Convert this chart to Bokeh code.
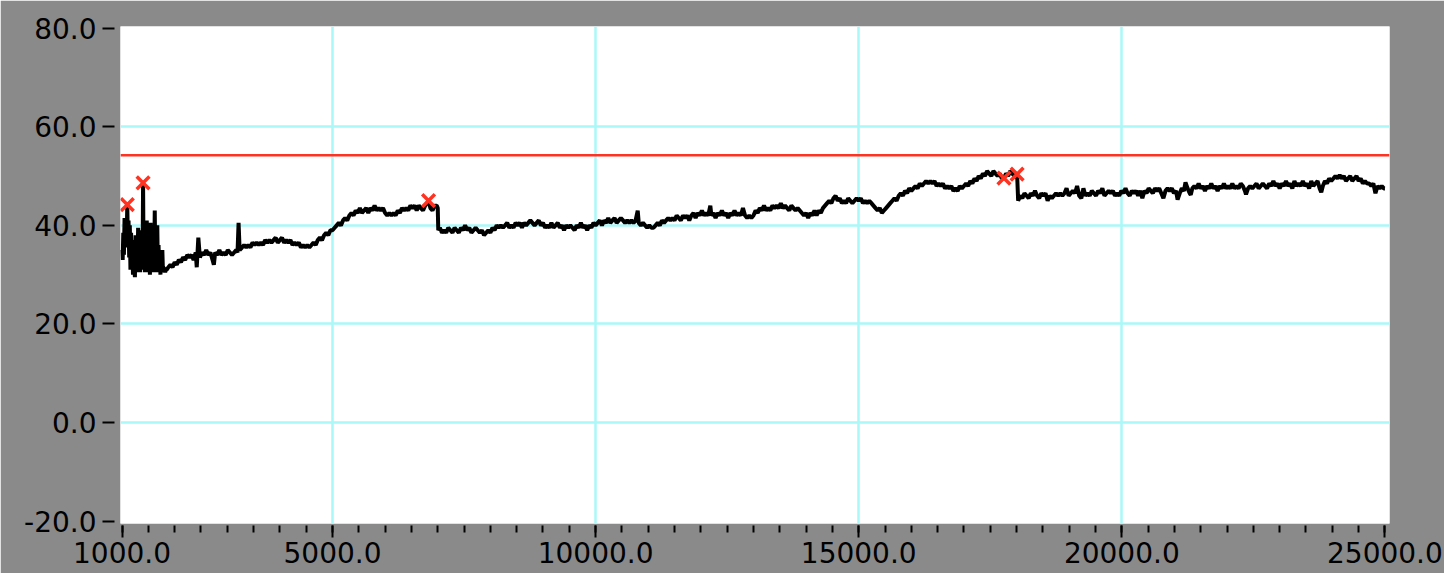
from bokeh.plotting import figure
from bokeh.models import Range1d, FixedTicker, PrintfTickFormatter, Span
from bokeh.embed import file_html
from bokeh.resources import INLINE

# ---- data ----
x_major_ticks = [1000, 5000, 10000, 15000, 20000, 25000]
x_minor_ticks = list(range(1000, 25001, 500))
x_grid_ticks = [5000, 10000, 15000, 20000]
y_major_ticks = [-20, 0, 20, 40, 60, 80]
y_grid_ticks = [0, 20, 40, 60]

limit_value = 54.2

series_x = [
    1000, 1012, 1024, 1036, 1048, 1060, 1072, 1085, 1100, 1112, 1124, 1136, 1148, 1160, 1172, 1184, 1196, 1208,
    1220, 1232, 1245, 1258, 1270, 1282, 1294, 1306, 1318, 1330, 1342, 1354, 1366, 1378, 1390, 1400, 1410, 1422,
    1434, 1446, 1458, 1470, 1482, 1494, 1506, 1518, 1530, 1542, 1554, 1566, 1578, 1590, 1602, 1614, 1622, 1634,
    1646, 1658, 1670, 1682, 1694, 1706, 1718, 1730, 1742, 1754, 1766, 1778, 1790, 1805, 1820, 1835, 1850,
    1880, 1920, 1960, 2000, 2040, 2080, 2120, 2160, 2200, 2240, 2280, 2320, 2360, 2400, 2420, 2450, 2480, 2520,
    2560, 2600, 2640, 2680, 2720, 2745, 2770, 2810, 2850, 2890, 2930, 2970, 3010, 3050, 3090, 3130, 3170, 3195, 3215, 3235,
    3280, 3320, 3360, 3400, 3440, 3480, 3520, 3560, 3600, 3640, 3680, 3720, 3760, 3800, 3840, 3880, 3920, 3960, 4000, 4040,
    4080, 4120, 4160, 4200, 4240, 4280, 4320, 4360, 4400, 4440, 4480, 4520, 4560, 4600, 4640, 4680, 4720, 4760, 4800, 4840,
    4880, 4920, 4960, 5000, 5040, 5080, 5120, 5160, 5200, 5240, 5280, 5320, 5360, 5400, 5440, 5480, 5520, 5560, 5600, 5640,
    5680, 5720, 5760, 5800, 5840, 5880, 5920, 5960, 6000, 6040, 6080, 6120, 6160, 6200, 6240, 6280, 6320, 6360, 6400, 6440,
    6480, 6520, 6560, 6600, 6640, 6680, 6720, 6760, 6800, 6825, 6860, 6900, 6940, 6980, 7000, 7010, 7040, 7080, 7120, 7160,
    7200, 7240, 7280, 7320, 7360, 7400, 7440, 7480, 7520, 7560, 7600, 7640, 7680, 7720, 7760, 7800, 7840, 7880, 7920, 7960,
    8000, 8040, 8080, 8120, 8160, 8200, 8240, 8280, 8320, 8360, 8400, 8440, 8480, 8520, 8560, 8600, 8640, 8680, 8720, 8760,
    8800, 8840, 8880, 8920, 8960, 9000, 9040, 9080, 9120, 9160, 9200, 9240, 9280, 9320, 9360, 9400, 9440, 9480, 9520, 9560,
    9600, 9640, 9680, 9720, 9760, 9800, 9840, 9880, 9920, 9960, 10000, 10040, 10080, 10120, 10160, 10200, 10240, 10280, 10320, 10360,
    10400, 10440, 10480, 10520, 10560, 10600, 10640, 10680, 10720, 10760, 10800, 10820, 10860, 10900, 10940, 10980, 11020, 11060, 11100, 11140,
    11180, 11220, 11260, 11300, 11340, 11380, 11420, 11460, 11500, 11540, 11580, 11620, 11660, 11700, 11740, 11780, 11820, 11860, 11900, 11940,
    11980, 12020, 12060, 12100, 12140, 12180, 12200, 12240, 12280, 12320, 12360, 12400, 12440, 12480, 12520, 12560, 12600, 12640, 12680, 12720,
    12760, 12800, 12840, 12880, 12920, 12960, 13000, 13040, 13080, 13120, 13160, 13200, 13240, 13280, 13320, 13360, 13400, 13440, 13480, 13520,
    13560, 13600, 13640, 13680, 13720, 13760, 13800, 13840, 13880, 13920, 13960, 14000, 14040, 14080, 14120, 14160, 14200, 14240, 14280, 14320,
    14360, 14400, 14440, 14480, 14520, 14560, 14600, 14640, 14680, 14720, 14760, 14800, 14840, 14880, 14920, 14960, 15000, 15040, 15080, 15120,
    15160, 15200, 15240, 15280, 15320, 15360, 15400, 15440, 15480, 15520, 15560, 15600, 15640, 15680, 15720, 15760, 15800, 15840, 15880, 15920,
    15960, 16000, 16040, 16080, 16120, 16160, 16200, 16240, 16280, 16320, 16360, 16400, 16440, 16480, 16520, 16560, 16600, 16640, 16680, 16720,
    16760, 16800, 16840, 16880, 16920, 16960, 17000, 17040, 17080, 17120, 17160, 17200, 17240, 17280, 17320, 17360, 17400, 17440, 17480, 17520,
    17560, 17600, 17640, 17680, 17720, 17760, 17800, 17840, 17880, 17920, 17960, 17990, 18010, 18030, 18070, 18110, 18150, 18190, 18230, 18270,
    18310, 18350, 18390, 18430, 18470, 18510, 18550, 18590, 18630, 18670, 18710, 18750, 18790, 18830, 18870, 18910, 18950, 18990, 19030, 19070,
    19110, 19150, 19190, 19230, 19270, 19310, 19350, 19390, 19430, 19470, 19510, 19550, 19590, 19630, 19670, 19710, 19750, 19790, 19830, 19870,
    19910, 19950, 19990, 20030, 20070, 20110, 20150, 20190, 20230, 20270, 20310, 20350, 20390, 20430, 20470, 20510, 20550, 20590, 20630, 20670,
    20710, 20750, 20790, 20830, 20870, 20910, 20950, 20990, 21030, 21060, 21100, 21140, 21180, 21210, 21250, 21290, 21310, 21340, 21380, 21420,
    21460, 21500, 21540, 21580, 21620, 21660, 21700, 21740, 21780, 21820, 21860, 21900, 21940, 21980, 22020, 22060, 22100, 22140, 22180, 22220,
    22260, 22300, 22340, 22360, 22400, 22440, 22480, 22520, 22560, 22600, 22640, 22680, 22720, 22760, 22800, 22840, 22880, 22920, 22960, 23000,
    23040, 23080, 23120, 23160, 23200, 23240, 23280, 23320, 23360, 23400, 23440, 23480, 23520, 23560, 23600, 23640, 23680, 23720, 23760, 23790,
    23820, 23860, 23900, 23940, 23980, 24020, 24060, 24100, 24140, 24180, 24220, 24260, 24300, 24340, 24380, 24420, 24460, 24500, 24540, 24580,
    24620, 24660, 24700, 24740, 24780, 24820, 24860, 24900, 24940, 24980, 25000,
]

series_y = [
    35.0, 33.0, 38.5, 34.0, 41.5, 36.0, 40.0, 35.5, 44.2, 36.0, 41.0, 33.5, 40.0, 31.0, 38.5, 33.0, 37.0, 30.0,
    36.5, 31.5, 29.5, 38.0, 30.5, 35.0, 31.0, 39.5, 32.0, 36.5, 30.5, 37.0, 33.0, 39.0, 31.0, 48.6, 32.0, 39.0,
    30.5, 36.5, 31.5, 41.0, 30.5, 37.5, 33.0, 35.5, 30.0, 40.5, 31.5, 38.0, 30.5, 36.0, 31.0, 35.5, 43.0, 30.5,
    37.5, 31.0, 40.0, 30.5, 36.0, 31.0, 34.5, 30.0, 33.5, 30.5, 35.0, 30.5, 31.5, 31.0, 30.5, 31.0, 31.0,
    31.5, 32.0, 31.5, 32.5, 32.0, 33.0, 32.5, 33.5, 33.0, 34.0, 33.5, 34.0, 33.0, 34.5, 31.5, 37.5, 33.5, 34.5,
    34.0, 35.0, 34.0, 34.5, 33.0, 32.0, 34.5, 34.0, 35.0, 34.0, 34.5, 34.0, 35.0, 34.5, 34.0, 34.5, 35.0, 34.5, 40.5, 35.0,
    35.5, 36.0, 35.5, 36.0, 35.5, 36.5, 36.0, 36.5, 36.0, 36.5, 36.0, 37.0, 36.5, 37.0, 36.5, 37.0, 37.5, 36.5, 37.0, 37.5,
    36.5, 37.0, 36.5, 37.0, 36.0, 36.5, 36.0, 36.5, 35.5, 36.0, 35.5, 36.0, 35.5, 36.0, 36.5, 36.0, 37.0, 37.5, 37.0, 38.0,
    38.5, 38.0, 39.0, 39.0, 39.5, 40.0, 40.5, 40.0, 41.0, 41.5, 41.0, 42.0, 42.5, 42.0, 43.0, 42.5, 43.5, 42.5, 43.0, 43.5,
    42.5, 43.5, 43.0, 44.0, 43.0, 43.5, 43.0, 43.5, 42.5, 42.0, 42.5, 42.0, 42.5, 42.0, 43.0, 42.5, 43.5, 43.0, 43.5, 43.0,
    44.0, 43.5, 44.0, 43.0, 44.0, 43.5, 43.0, 44.0, 44.5, 45.0, 43.5, 43.0, 44.0, 44.0, 43.5, 39.0, 39.5, 38.5, 39.0, 38.5,
    39.5, 39.0, 38.5, 39.5, 39.0, 38.5, 39.5, 39.0, 40.0, 39.0, 39.5, 38.5, 39.0, 39.5, 39.0, 38.5, 39.0, 38.0, 38.5, 39.0,
    38.5, 39.5, 39.0, 40.0, 39.5, 40.0, 39.5, 40.0, 40.5, 39.5, 40.0, 39.5, 40.5, 40.0, 40.5, 39.5, 40.5, 40.0, 40.5, 41.0,
    40.5, 40.0, 40.5, 41.0, 40.0, 40.5, 39.5, 40.0, 39.5, 40.5, 39.5, 40.0, 40.5, 39.5, 40.0, 39.0, 40.0, 39.5, 40.0, 39.5,
    39.0, 40.0, 39.5, 40.5, 39.5, 40.0, 39.0, 40.0, 39.5, 40.5, 40.0, 40.5, 41.0, 40.0, 41.0, 40.5, 41.5, 40.5, 41.0, 41.5,
    40.5, 41.0, 41.5, 41.0, 40.5, 41.0, 40.5, 41.0, 40.5, 41.0, 43.0, 40.5, 40.0, 40.5, 40.0, 39.5, 40.0, 39.5, 39.5, 40.0,
    40.5, 40.0, 41.0, 40.5, 41.0, 41.5, 41.0, 41.5, 41.0, 42.0, 41.5, 41.0, 42.0, 41.5, 42.0, 41.0, 42.0, 42.5, 41.5, 42.5,
    42.0, 43.0, 42.0, 42.5, 42.0, 44.0, 42.0, 42.5, 41.5, 42.5, 42.0, 43.0, 42.0, 42.5, 41.5, 42.5, 42.0, 43.0, 42.0, 42.5,
    42.0, 43.5, 42.0, 41.5, 42.0, 41.5, 42.0, 43.0, 42.5, 43.5, 43.0, 44.0, 43.0, 43.5, 43.0, 44.0, 43.5, 44.0, 43.5, 44.5,
    43.5, 44.0, 43.5, 43.0, 44.0, 43.5, 43.0, 43.5, 43.0, 42.5, 42.0, 42.5, 41.5, 42.5, 42.0, 43.0, 42.0, 43.0, 42.5, 43.5,
    44.0, 44.5, 45.0, 44.5, 45.5, 46.0, 45.0, 45.5, 44.5, 45.0, 44.5, 45.5, 45.0, 44.5, 45.0, 45.5, 45.0, 45.5, 44.5, 45.0,
    44.5, 45.0, 44.5, 44.0, 43.5, 43.0, 43.5, 42.5, 43.0, 43.5, 44.0, 44.5, 45.0, 45.5, 45.0, 46.0, 46.5, 46.0, 47.0, 46.5,
    47.5, 47.0, 47.5, 48.0, 47.5, 48.5, 48.0, 48.5, 49.0, 48.5, 49.0, 48.5, 49.0, 48.0, 48.5, 48.0, 48.5, 47.5, 48.0, 47.5,
    48.0, 47.0, 47.5, 47.0, 48.0, 47.5, 48.0, 48.5, 48.0, 49.0, 48.5, 49.5, 49.0, 50.0, 49.5, 50.5, 50.0, 51.0, 50.5, 50.0,
    51.0, 50.5, 50.0, 50.5, 49.5, 49.6, 50.5, 50.0, 51.0, 50.5, 50.0, 49.8, 50.4, 45.0, 46.0, 45.5, 46.5, 46.0, 45.5, 46.5,
    46.0, 47.0, 46.0, 45.5, 46.5, 46.0, 46.5, 45.0, 46.0, 45.5, 46.0, 46.5, 46.0, 46.5, 46.0, 46.5, 47.5, 46.0, 46.5, 47.0,
    46.5, 48.0, 46.0, 45.5, 47.5, 46.0, 46.5, 46.0, 47.0, 46.5, 46.0, 47.0, 46.5, 47.5, 46.0, 46.5, 47.0, 46.5, 47.0, 46.0,
    46.5, 46.0, 47.0, 46.5, 47.5, 46.5, 46.0, 47.0, 46.5, 47.0, 46.0, 47.0, 45.5, 47.0, 46.5, 47.5, 47.0, 46.5, 47.5, 47.0,
    47.5, 46.5, 45.5, 47.0, 47.5, 47.0, 47.5, 46.5, 47.0, 45.2, 46.5, 47.5, 47.0, 48.7, 47.5, 46.5, 46.2, 47.5, 48.0, 47.5,
    48.5, 47.5, 48.0, 47.0, 48.0, 47.5, 48.5, 47.5, 48.0, 47.0, 48.0, 47.5, 48.5, 47.5, 48.0, 47.5, 48.5, 47.5, 48.0, 47.5,
    48.5, 48.0, 47.0, 46.3, 47.5, 48.0, 47.5, 48.0, 48.5, 47.5, 48.0, 48.5, 48.0, 47.5, 48.5, 48.0, 49.0, 48.0, 48.5, 47.5,
    48.5, 48.0, 49.0, 48.0, 48.5, 47.5, 49.0, 48.0, 48.5, 48.0, 49.0, 48.0, 48.5, 47.5, 49.0, 48.0, 48.5, 49.0, 47.5, 46.7,
    48.0, 49.0, 48.5, 49.5, 49.0, 49.5, 50.0, 49.5, 50.2, 49.5, 50.0, 49.0, 49.5, 50.0, 49.0, 49.5, 50.0, 49.0, 49.5, 48.5,
    49.0, 48.5, 48.5, 48.0, 48.5, 46.5, 48.0, 47.5, 48.0, 47.5, 47.5,
]
assert len(series_x) == len(series_y)

peak_x = [1100, 1400, 6825, 17760, 18010]
peak_y = [44.2, 48.6, 45.0, 49.6, 50.4]

# ---- figure ----
FONT = "DejaVu Sans"
GRAY = "#8a8a8a"
GRID = "#aaf8f8"
RED = "#ff3322"

p = figure(
    width=1444, height=573,
    x_range=Range1d(971, 25087), y_range=Range1d(-20.5, 80.35),
    output_backend="svg", toolbar_location=None,
    min_border_left=120, min_border_right=55, min_border_top=26, min_border_bottom=50,
)
p.background_fill_color = "white"
p.border_fill_color = GRAY
p.outline_line_color = None

# grids
p.xgrid.ticker = FixedTicker(ticks=x_grid_ticks)
p.ygrid.ticker = FixedTicker(ticks=y_grid_ticks)
for g in (p.xgrid[0], p.ygrid[0]):
    g.grid_line_color = GRID
    g.grid_line_width = 2.5

# x axis
xa = p.xaxis[0]
xa.ticker = FixedTicker(ticks=x_major_ticks, minor_ticks=x_minor_ticks)
xa.formatter = PrintfTickFormatter(format="%.1f")
xa.axis_line_color = None
xa.major_tick_in = -2
xa.major_tick_out = 14
xa.minor_tick_in = -2
xa.minor_tick_out = 9
xa.major_tick_line_color = "black"
xa.minor_tick_line_color = "black"
xa.major_tick_line_width = 2
xa.minor_tick_line_width = 2
xa.major_label_text_font = FONT
xa.major_label_text_font_size = "28px"
xa.major_label_text_color = "black"
xa.major_label_standoff = 4

# y axis
ya = p.yaxis[0]
ya.ticker = FixedTicker(ticks=y_major_ticks)
ya.formatter = PrintfTickFormatter(format="%.1f")
ya.axis_line_color = None
ya.major_tick_in = -6
ya.major_tick_out = 18
ya.minor_tick_line_color = None
ya.major_tick_line_color = "black"
ya.major_tick_line_width = 2
ya.major_label_text_font = FONT
ya.major_label_text_font_size = "28px"
ya.major_label_text_color = "black"
ya.major_label_standoff = 6

# limit line
p.add_layout(Span(location=limit_value, dimension="width", line_color=RED, line_width=2.5))

# data
p.line(series_x, series_y, line_color="black", line_width=4)
p.scatter(peak_x, peak_y, marker="x", size=18, line_color=RED, line_width=3.5)

open("out.html", "w").write(file_html(p, INLINE))
